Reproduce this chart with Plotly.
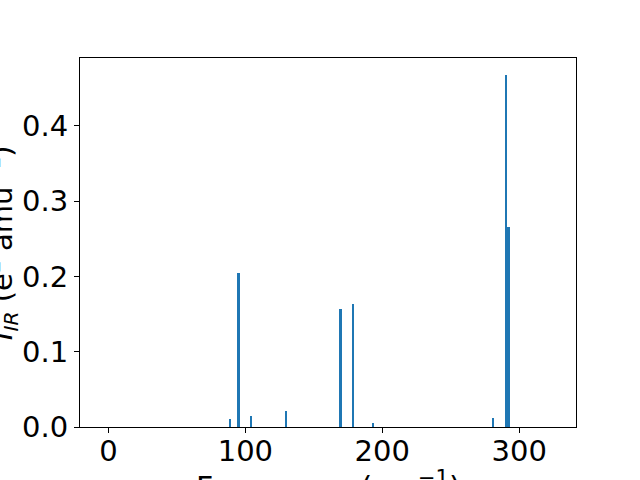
import plotly.graph_objects as go

freqs = [88.7, 95.1, 104.2, 129.5, 169.3, 178.5, 193.1, 280.8, 290.4, 292.2]
intensities = [0.0106, 0.2045, 0.015, 0.0212, 0.1567, 0.1633, 0.0053, 0.012, 0.4675, 0.2656]
x_ticks = [0, 100, 200, 300]
y_ticks = [0.0, 0.1, 0.2, 0.3, 0.4]
y_tick_labels = ["0.0", "0.1", "0.2", "0.3", "0.4"]

FONT = "DejaVu Sans"
FS = 29

fig = go.Figure(go.Bar(x=freqs, y=intensities, width=1.85, marker_color="#1f77b4",
                       marker_line_width=0))

fig.update_layout(
    width=640, height=480,
    margin=dict(l=80, r=64, t=58, b=53, autoexpand=False),
    paper_bgcolor="white", plot_bgcolor="white",
    showlegend=False,
    font=dict(family=FONT, size=FS, color="black"),
    bargap=0,
)
fig.update_xaxes(range=[-20.8, 341.5], tickvals=x_ticks, ticks="outside", ticklen=5,
                 tickwidth=1, tickcolor="black", showline=True, linecolor="black",
                 linewidth=1, mirror=True, showgrid=False, zeroline=False,
                 ticklabelstandoff=-7,
                 tickfont=dict(family=FONT, size=FS, color="black"))
fig.update_yaxes(range=[0, 0.49], tickvals=y_ticks, ticktext=y_tick_labels, ticks="outside",
                 ticklen=5, tickwidth=1, tickcolor="black", showline=True, linecolor="black",
                 linewidth=1, mirror=True, showgrid=False, zeroline=False,
                 tickfont=dict(family=FONT, size=FS, color="black"))

fig.add_annotation(text="Frequency (cm<sup>−1</sup>)", xref="paper", yref="paper",
                   x=0.5, y=-0.101, xanchor="center", yanchor="top", showarrow=False,
                   font=dict(family=FONT, size=30, color="black"))
fig.add_annotation(text="<i>I</i><sub><i>IR</i></sub> (e<sup>2</sup> amu<sup>−1</sup>)",
                   xref="paper", yref="paper", x=-0.158, y=0.5, xanchor="center",
                   yanchor="middle", textangle=-90, showarrow=False,
                   font=dict(family=FONT, size=FS, color="black"))

fig.write_html("out.html", config={"displayModeBar": False},
               post_script="document.body.style.margin='0';")
